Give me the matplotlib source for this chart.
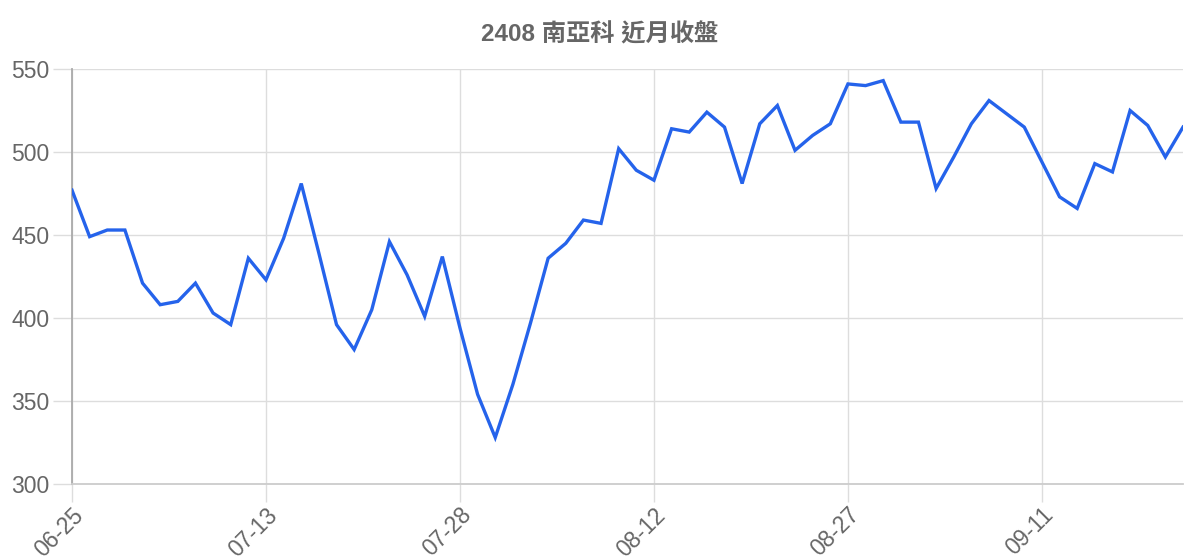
import matplotlib
matplotlib.use("Agg")
import matplotlib.pyplot as plt

plt.rcParams['font.family'] = ['Liberation Sans', 'Noto Sans CJK TC', 'DejaVu Sans']

title = "2408 南亞科 近月收盤"
tick_labels = ["06-25", "07-13", "07-28", "08-12", "08-27", "09-11"]
tick_every = 11
closes = [
    477, 449, 453, 453, 421, 408, 410, 421, 403, 396,
    436, 423, 448, 481, 439, 396, 381, 405, 446, 426,
    401, 437, 394, 354, 328, 360, 397, 436, 445, 459,
    457, 502, 489, 483, 514, 512, 524, 515, 481, 517,
    528, 501, 510, 517, 541, 540, 543, 518, 518, 478,
    497, 517, 531, 523, 515, 494, 473, 466, 493, 488,
    525, 516, 497, 515,
]
y_ticks = [300, 350, 400, 450, 500, 550]

grid_c = "#dddddd"
text_c = "#666666"
line_c = "#2563eb"

fig = plt.figure(figsize=(12, 5.6), dpi=100)
ax = fig.add_axes([72/1200, 76/560, (1183-72)/1200, (484-69)/560])

x = list(range(len(closes)))
ax.plot(x, closes, color=line_c, linewidth=2.4, solid_joinstyle='miter', zorder=3)

ax.set_xlim(0, len(closes) - 1)
ax.set_ylim(300, 550)
ax.set_yticks(y_ticks)
ax.set_yticklabels([str(v) for v in y_ticks])
xt = [i * tick_every for i in range(len(tick_labels))]
ax.set_xticks(xt)
ax.set_xticklabels(tick_labels, rotation=45, ha='right', rotation_mode='anchor')

ax.grid(True, color=grid_c, linewidth=1.0, zorder=0)
for s in ['top', 'right']:
    ax.spines[s].set_visible(False)
ax.spines['left'].set_color("#aaaaaa")
ax.spines['left'].set_linewidth(1.3)
ax.spines['bottom'].set_color("#cccccc")
ax.spines['bottom'].set_linewidth(1.3)

ax.tick_params(axis='y', length=14, width=1.0, color=grid_c, labelsize=16.5,
               labelcolor=text_c, pad=2)
ax.tick_params(axis='x', length=13, width=1.0, color=grid_c, labelsize=16.5,
               labelcolor=text_c, pad=1)

fig.text(0.5, 1 - 35/560, title, ha='center', va='center', fontsize=17.5,
         fontweight='bold', color=text_c)

fig.savefig("out.png", dpi=100, facecolor='white')
